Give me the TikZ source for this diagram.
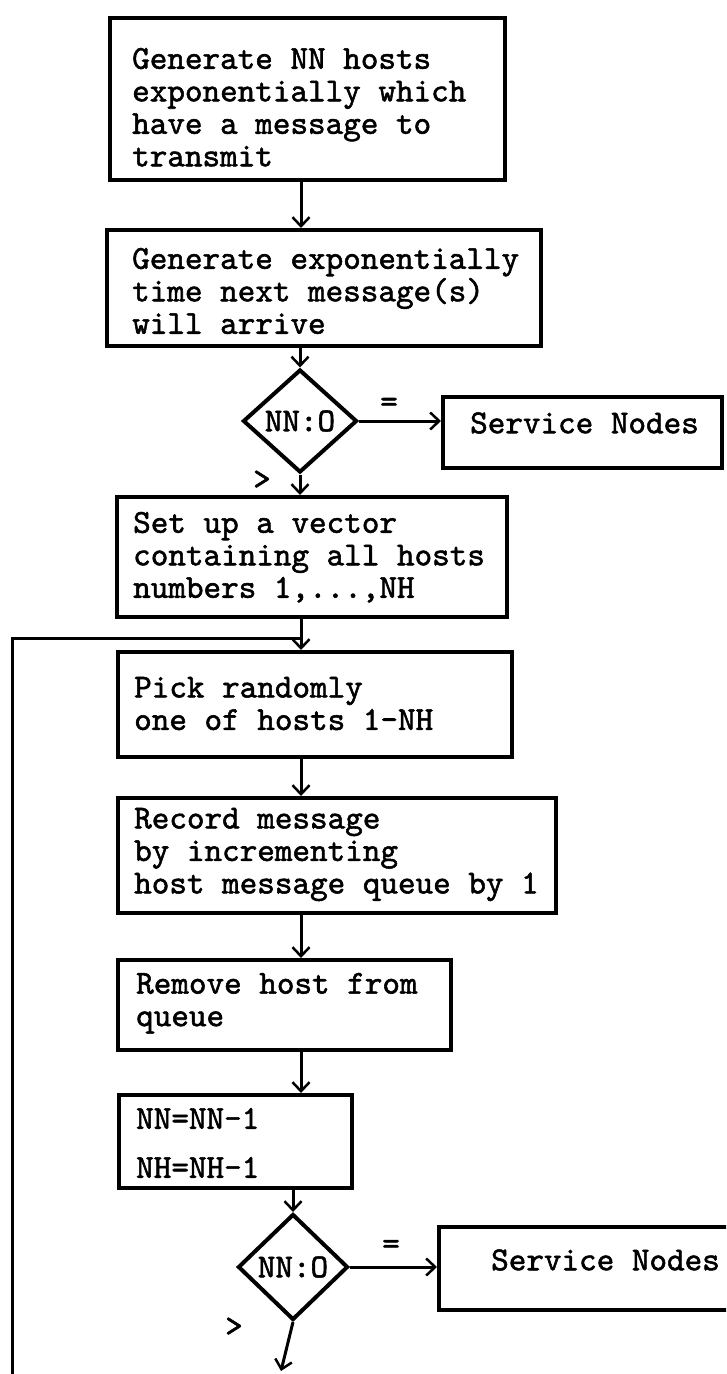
\documentclass[tikz,border=0pt]{standalone}
\usepackage{fontspec}
\newfontfamily\typer{lmmono10-regular.otf}[FakeBold=1.6]
\usetikzlibrary{shapes.geometric,arrows.meta}
\begin{document}
\begin{tikzpicture}[x=1pt,y=-1pt,
  every node/.style={font=\fontsize{33.5}{32.5}\selectfont\typer},
  box/.style={draw,rectangle,line width=4pt,inner sep=0pt},
  decision/.style={draw,diamond,line width=4pt,inner sep=0pt},
  txt/.style={anchor=north west,inner sep=0pt,align=left},
  sign/.style={inner sep=0pt},
  flow/.style={line width=3pt,-{Straight Barb[length=9pt,width=17pt,line width=2.5pt]}},
  link/.style={line width=3pt}]
\useasboundingbox (0,0) rectangle (726,1374);
\clip (0,0) rectangle (726,1374);

% process boxes
\node[box,minimum width=395pt,minimum height=162pt] (b1) at (307.5,99) {};
\node[box,minimum width=434pt,minimum height=116pt] (b2) at (324,288) {};
\node[box,minimum width=390pt,minimum height=120pt] (b3) at (312,557) {};
\node[box,minimum width=394pt,minimum height=105pt] (b4) at (315,704.5) {};
\node[box,minimum width=438pt,minimum height=115pt] (b5) at (337,855.5) {};
\node[box,minimum width=333pt,minimum height=90pt] (b6) at (284.5,1005) {};
\node[box,minimum width=233pt,minimum height=93pt] (b7) at (235.5,1141.5) {};

% box texts
\node[txt] (t1) at (132,47.75) {Generate NN hosts\\exponentially which\\have a message to\\transmit};
\node[txt] (t2) at (132,247.75) {Generate exponentially\\time next message(s)\\will arrive};
\node[txt] (t3) at (133,511.75) {Set up a vector\\containing all hosts\\numbers 1,...,NH};
\node[txt] (t4) at (134,676.75) {Pick randomly\\one of hosts 1-NH};
\node[txt] (t5) at (134,807.75) {Record message\\by incrementing\\host message queue by 1};
\node[txt] (t6) at (136,972.75) {Remove host from\\queue};
\node[txt] (t7) at (136,1107.75) {NN=NN-1\\[16.5pt]NH=NH-1};

% decisions
\node[decision,minimum width=114pt,minimum height=103pt] (d1) at (300,421) {NN:O};
\node[decision,minimum width=110pt,minimum height=106pt] (d2) at (293,1267) {NN:O};

% service boxes
\node[box,minimum width=279pt,minimum height=71pt] (s1) at (582.5,432.5) {};
\node[sign,anchor=west] (s1t) at (470,423) {Service Nodes};
\node[box,minimum width=306pt,minimum height=83pt] (s2) at (592,1268.5) {};
\node[sign,anchor=west] (s2t) at (491,1260) {Service Nodes};

% branch marks
\node[sign] (eq1) at (389,405) {=};
\node[sign] (eq2) at (391,1247) {=};
\node[sign] (gt1) at (262,480) {>};
\node[sign] (gt2) at (234,1327) {>};

% connectors
\coordinate (spine) at (301,0);
\coordinate (loopjoin) at (301,638);
\coordinate (loopbase) at (12,1380);
\coordinate (exit) at (281,1371);
\draw[flow] (b1.south -| spine) -- (b2.north -| spine);
\draw[flow] (b2.south -| d1.north) -- (d1.north);
\draw[flow] (d1.east) -- (d1.east -| s1.west);
\draw[flow] (d1.south) -- (b3.north -| d1.south);
\draw[flow] (b3.south -| spine) -- (b4.north -| spine);
\draw[link] (loopbase) |- (loopjoin);
\draw[flow] (b4.south -| spine) -- (b5.north -| spine);
\draw[flow] (b5.south -| spine) -- (b6.north -| spine);
\draw[flow] (b6.south -| spine) -- (b7.north -| spine);
\draw[flow] (b7.south -| d2.north) -- (d2.north);
\draw[flow] (d2.east) -- (d2.east -| s2.west);
\draw[flow] (d2.south) -- (exit);
\end{tikzpicture}
\end{document}
